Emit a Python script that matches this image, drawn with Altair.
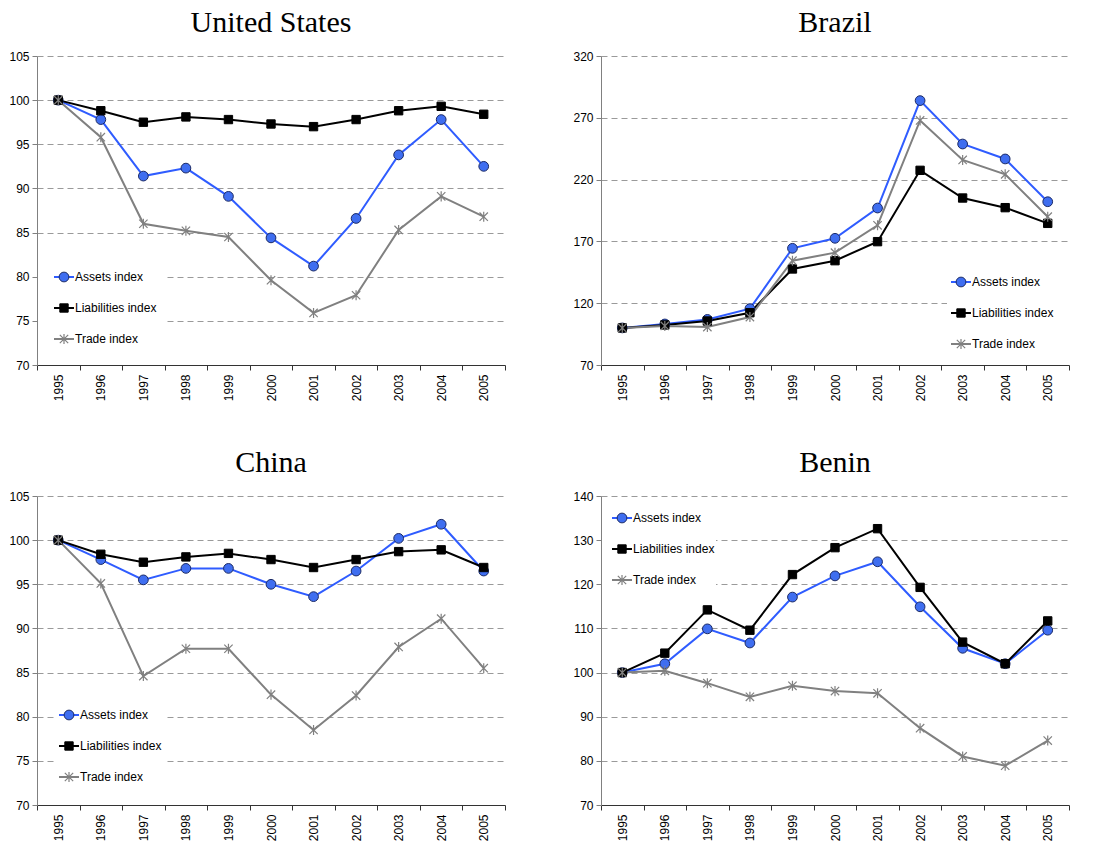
import altair as alt
import pandas as pd

years = [1995, 1996, 1997, 1998, 1999, 2000, 2001, 2002, 2003, 2004, 2005]
series_names = ["Assets index", "Liabilities index", "Trade index"]

# United States
us_assets = [100, 97.8, 91.4, 92.3, 89.1, 84.4, 81.2, 86.6, 93.8, 97.8, 92.5]
us_liabilities = [100, 98.8, 97.5, 98.1, 97.8, 97.3, 97.0, 97.8, 98.8, 99.3, 98.4]
us_trade = [100, 95.8, 86.0, 85.2, 84.5, 79.6, 75.9, 77.9, 85.3, 89.1, 86.8]

# Brazil
br_assets = [100, 103.2, 106.9, 115.6, 164.4, 172.5, 197.0, 283.9, 248.8, 236.7, 202.1]
br_liabilities = [100, 102.4, 105.6, 112.3, 147.7, 154.4, 169.8, 227.5, 205.1, 197.3, 184.6]
br_trade = [100, 101.6, 100.7, 108.8, 154.4, 160.9, 183.0, 267.9, 235.9, 224.3, 190.0]

# China
cn_assets = [100, 97.8, 95.5, 96.8, 96.8, 95.0, 93.6, 96.5, 100.2, 101.8, 96.5]
cn_liabilities = [100, 98.4, 97.5, 98.1, 98.5, 97.8, 96.9, 97.8, 98.7, 98.9, 96.9]
cn_trade = [100, 95.1, 84.6, 87.7, 87.7, 82.5, 78.5, 82.4, 87.9, 91.1, 85.5]

# Benin
bj_assets = [100, 102.0, 109.9, 106.7, 117.1, 121.9, 125.1, 114.9, 105.5, 102.0, 109.6]
bj_liabilities = [100, 104.4, 114.2, 109.6, 122.2, 128.3, 132.6, 119.3, 106.9, 102.0, 111.7]
bj_trade = [100, 100.4, 97.6, 94.5, 97.0, 95.8, 95.3, 87.4, 81.0, 78.9, 84.6]

W, H = 468, 309
BLUE = "#2f5cff"
GRAY = "#808080"
STAR = "M-1,-1L1,1M-1,1L1,-1M0,-1.2L0,1.2"
LABEL_FONT = "Liberation Sans"

styles = {
    "Assets index": dict(line=BLUE, shape="circle", fill="#3f6ef0", stroke="#1b2a66",
                         size=95, filled=True, sw=1),
    "Liabilities index": dict(line="black", shape="square", fill="black", stroke="black",
                              size=70, filled=True, sw=1),
    "Trade index": dict(line=GRAY, shape=STAR, fill=GRAY, stroke=GRAY,
                        size=70, filled=False, sw=1.2),
}


def frame(values):
    rows = []
    for name, vals in zip(series_names, values):
        for yr, v in zip(years, vals):
            rows.append({"year": str(yr), "series": name, "value": v})
    return pd.DataFrame(rows)


def point_mark(chart, st):
    if st["filled"]:
        return chart.mark_point(shape=st["shape"], filled=True, fill=st["fill"],
                                stroke=st["stroke"], strokeWidth=st["sw"],
                                size=st["size"], opacity=1)
    return chart.mark_point(shape=st["shape"], filled=False, stroke=st["stroke"],
                            strokeWidth=st["sw"], size=st["size"], opacity=1)


def legend(x0, y0, dy, bg):
    layers = [
        alt.Chart(alt.Data(values=[{"k": 0}])).mark_rect(color="white").encode(
            x=alt.value(bg[0]), x2=alt.value(bg[1]),
            y=alt.value(bg[2]), y2=alt.value(bg[3]))
    ]
    for i, name in enumerate(series_names):
        st = styles[name]
        yy = y0 + i * dy
        src = alt.Chart(alt.Data(values=[{"series": name}]))
        layers.append(src.mark_rule(color=st["line"], strokeWidth=2).encode(
            x=alt.value(x0 - 10), x2=alt.value(x0 + 10), y=alt.value(yy)))
        layers.append(point_mark(src, st).encode(x=alt.value(x0), y=alt.value(yy)))
        layers.append(src.mark_text(
            align="left", baseline="middle", font=LABEL_FONT, fontSize=12,
            color="black"
        ).encode(x=alt.value(x0 + 11), y=alt.value(yy), text="series:N"))
    return layers


def panel(title, values, ymin, ymax, step, leg):
    df = frame(values)
    ticks = list(range(ymin, ymax + 1, step))
    x = alt.X("year:O", title=None, bandPosition=0.5,
              scale=alt.Scale(type="band", paddingInner=0, paddingOuter=0),
              axis=alt.Axis(labelAngle=-90, labelAlign="right", labelBaseline="middle",
                            tickBand="extent", tickSize=5, tickColor="#333",
                            domainColor="#333", labelFont=LABEL_FONT, labelFontSize=12,
                            labelColor="black", labelPadding=4, grid=False))
    y = alt.Y("value:Q", title=None,
              scale=alt.Scale(domain=[ymin, ymax], nice=False, zero=False),
              axis=alt.Axis(values=ticks, tickSize=5, tickColor=GRAY, domainColor=GRAY,
                            labelFont=LABEL_FONT, labelFontSize=12, labelColor="black",
                            labelPadding=3, grid=True, gridColor="#9a9a9a",
                            gridDash=[6, 4], gridWidth=1))
    layers = legend(*leg)
    for name in series_names:
        st = styles[name]
        sub = df[df.series == name]
        layers.append(alt.Chart(sub).mark_line(color=st["line"], strokeWidth=2)
                      .encode(x=x, y=y))
    for name in series_names:
        st = styles[name]
        sub = df[df.series == name]
        layers.append(point_mark(alt.Chart(sub), st).encode(x=x, y=y))
    return alt.layer(*layers).properties(
        width=W, height=H,
        title=alt.TitleParams(title, font="Liberation Serif", fontSize=30,
                              fontWeight="normal", color="black", anchor="middle",
                              offset=12))


p_us = panel("United States", [us_assets, us_liabilities, us_trade], 70, 105, 5,
             (27, 221, 31, (1, 127, 203, 300)))
p_br = panel("Brazil", [br_assets, br_liabilities, br_trade], 70, 320, 50,
             (360, 226, 31, (346, 469, 208, 305)))
p_cn = panel("China", [cn_assets, cn_liabilities, cn_trade], 70, 105, 5,
             (32, 219, 31, (18, 127, 203, 300)))
p_bj = panel("Benin", [bj_assets, bj_liabilities, bj_trade], 70, 140, 10,
             (21, 22, 31, (1, 115, 5, 100)))

chart = alt.concat(p_us, p_br, p_cn, p_bj, columns=2,
                   spacing={"row": 47, "column": 66}).properties(
    padding={"left": 8, "top": 8, "right": 5, "bottom": 5}
).configure_view(strokeWidth=0)

chart.save("out.html", embed_options={"renderer": "svg", "actions": False})
